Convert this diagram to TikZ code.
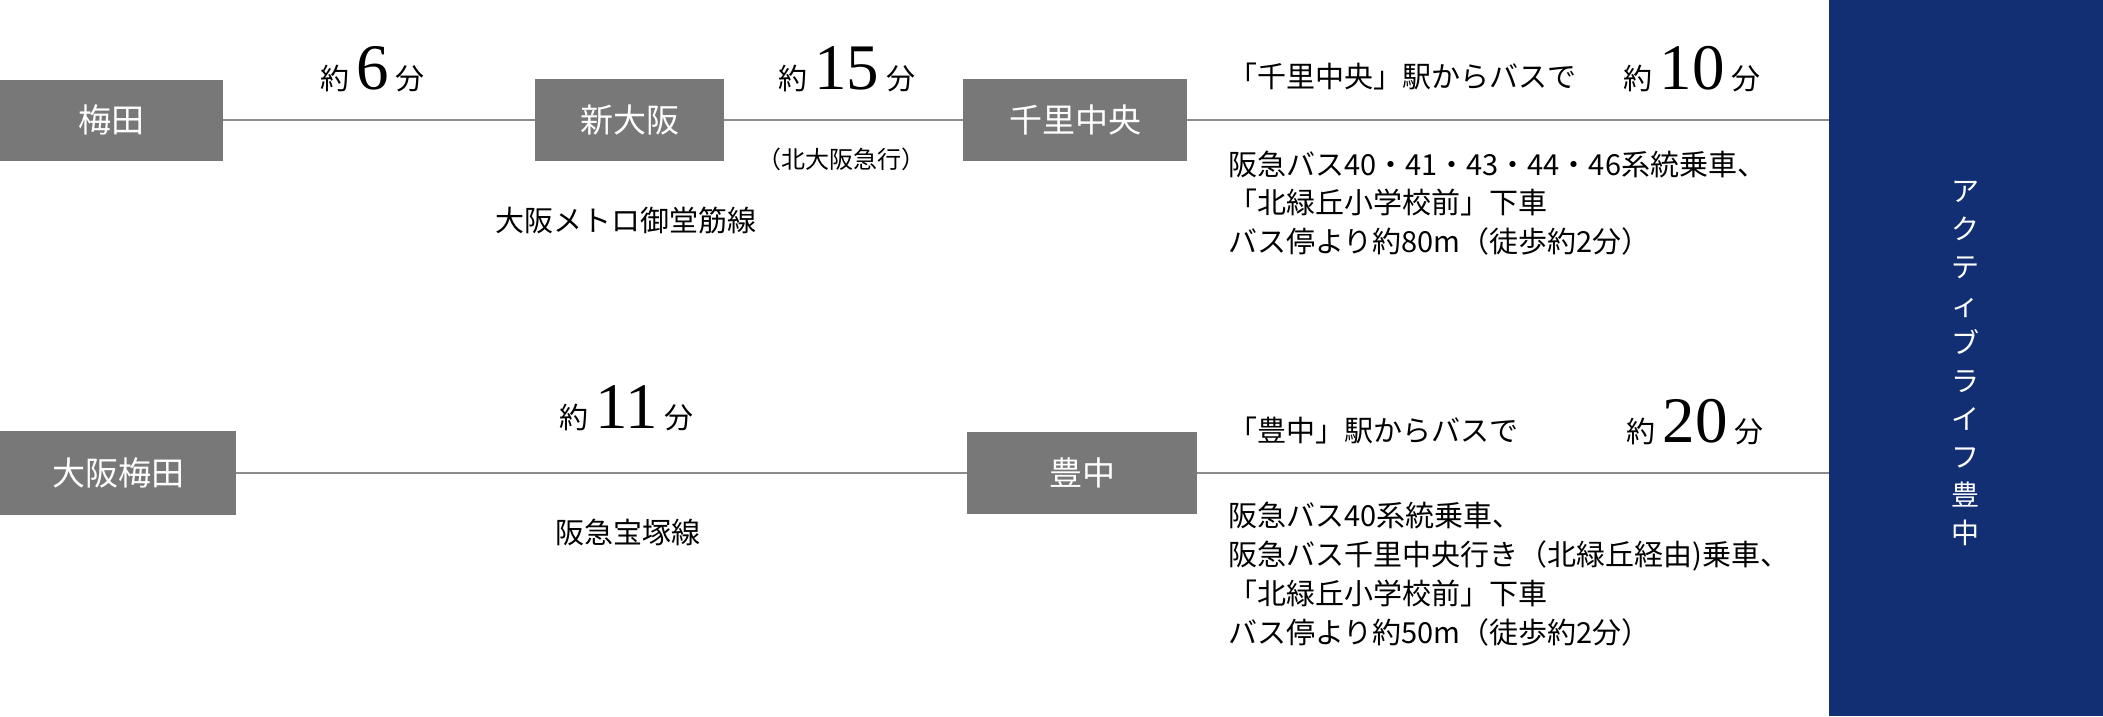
\documentclass[tikz,border=0pt]{standalone}
\usepackage{fontspec}
\setmainfont{Noto Sans CJK JP}
\newfontfamily\dig{Liberation Serif}
\definecolor{boxgray}{RGB}{120,120,120}
\definecolor{linegray}{RGB}{140,140,140}
\definecolor{navy}{RGB}{19,47,115}
\newcommand\yakufun[1]{{\fontsize{29}{29}\selectfont 約}\hspace{7pt}{\dig\fontsize{65}{65}\selectfont #1}\hspace{7pt}{\fontsize{29}{29}\selectfont 分}}
\begin{document}
\begin{tikzpicture}[x=1pt,y=-1pt,
  stn/.style={fill=boxgray, text=white, inner sep=0pt, font=\fontsize{33}{33}\selectfont},
  conn/.style={draw=linegray, line width=2pt},
  txt/.style={inner sep=0pt, anchor=base west, font=\fontsize{29}{29}\selectfont},
  ctxt/.style={inner sep=0pt, anchor=base, font=\fontsize{29}{29}\selectfont},
  timelbl/.style={inner sep=0pt, anchor=base},
  vchar/.style={inner sep=0pt, anchor=base, text=white, font=\fontsize{28}{28}\selectfont}]
\useasboundingbox (0,0) rectangle (2103,716);
\fill[white] (0,0) rectangle (2103,716);
\node[fill=navy, inner sep=0pt, minimum width=274pt, minimum height=716pt, anchor=north west] (panel) at (1829,0) {};
% stations
\node[stn, minimum width=223pt, minimum height=81pt] (umeda) at (111.5,120) {梅田};
\node[stn, minimum width=189pt, minimum height=82pt] (shinosaka) at (629.5,120) {新大阪};
\node[stn, minimum width=224pt, minimum height=82pt] (senri) at (1075,120) {千里中央};
\node[stn, minimum width=236pt, minimum height=84pt] (oumeda) at (118,473) {大阪梅田};
\node[stn, minimum width=230pt, minimum height=82pt] (toyonaka) at (1082,473) {豊中};
% connectors
\draw[conn] (umeda.east) -- (shinosaka.west);
\draw[conn] (shinosaka.east) -- (senri.west);
\draw[conn] (senri.east) -- (senri.east -| panel.west);
\draw[conn] (oumeda.east) -- (toyonaka.west);
\draw[conn] (toyonaka.east) -- (toyonaka.east -| panel.west);
% times
\node[timelbl] (t1) at (372.5,89) {\yakufun{6}};
\node[timelbl] (t2) at (846.5,89) {\yakufun{15}};
\node[timelbl] (t3) at (1692,89) {\yakufun{10}};
\node[timelbl] (t4) at (626.5,428) {\yakufun{11}};
\node[timelbl] (t5) at (1695,442) {\yakufun{20}};
% line labels
\node[ctxt, font=\fontsize{24}{24}\selectfont] (kyu) at (841,168) {（北大阪急行）};
\node[ctxt] (mido) at (626,231) {大阪メトロ御堂筋線};
\node[ctxt] (takara) at (628,543) {阪急宝塚線};
% headings
\node[txt] (h1) at (1228,87) {「千里中央」駅からバスで};
\node[txt] (h2) at (1228,441) {「豊中」駅からバスで};
% descriptions
\node[txt] (d1a) at (1228,175) {阪急バス40・41・43・44・46系統乗車、};
\node[txt] (d1b) at (1228,213.5) {「北緑丘小学校前」下車};
\node[txt] (d1c) at (1228,252) {バス停より約80m（徒歩約2分）};
\node[txt] (d2a) at (1228,526) {阪急バス40系統乗車、};
\node[txt] (d2b) at (1228,565) {阪急バス千里中央行き（北緑丘経由)乗車、};
\node[txt] (d2c) at (1228,604) {「北緑丘小学校前」下車};
\node[txt] (d2d) at (1228,643) {バス停より約50m（徒歩約2分）};
% vertical title
\foreach \c [count=\i] in {ア,ク,テ,ィ,ブ,ラ,イ,フ,豊,中}
  \node[vchar] (v\i) at (1965,{201.6+38*(\i-1)}) {\c};
\end{tikzpicture}
\end{document}
